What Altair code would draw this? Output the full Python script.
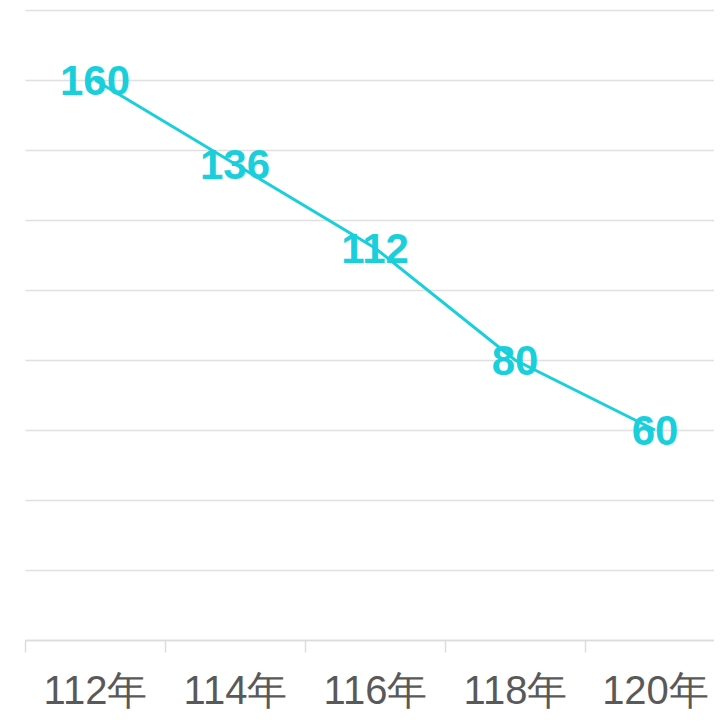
import altair as alt
import pandas as pd

years = ["112年", "114年", "116年", "118年", "120年"]
values = [160, 136, 112, 80, 60]

df = pd.DataFrame({"year": years, "value": values})

color = "#1ACFDC"

x = alt.X("year:N", sort=years, title=None,
          scale=alt.Scale(range=[0, 700], paddingInner=0, paddingOuter=0),
          axis=alt.Axis(labelAngle=0, labelFont="Liberation Sans", labelFontSize=40,
                        labelColor="#595959", tickBand="extent", tickSize=12,
                        tickColor="#dcdcdc", tickWidth=1.5, domainColor="#dcdcdc",
                        domainWidth=1.5, labelPadding=51, labelBaseline="alphabetic",
                        grid=False))
y = alt.Y("value:Q", title=None,
          scale=alt.Scale(domain=[0, 180], nice=False),
          axis=alt.Axis(values=list(range(0, 181, 20)), labels=False, ticks=False,
                        domain=False, grid=True, gridColor="#e0e0e0", gridWidth=1.5))

base = alt.Chart(df).encode(x=x, y=y)

line = base.mark_line(color=color, strokeWidth=3)
text = base.mark_text(color=color, font="Liberation Sans", fontWeight="bold",
                      fontSize=42, baseline="middle", dy=2).encode(text="value:Q")

chart = (line + text).properties(
    width=689, height=630,
    background="white",
    autosize=alt.AutoSizeParams(type="none"),
    padding={"left": 17, "top": 2, "right": 0, "bottom": 74},
).configure_view(strokeWidth=0)

chart.save("out.html", embed_options={"renderer": "svg", "actions": False})
